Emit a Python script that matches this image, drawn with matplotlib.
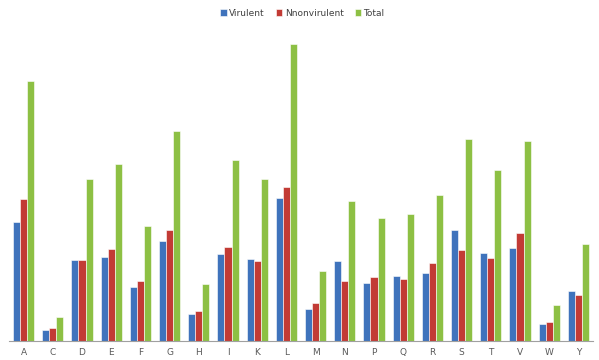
import matplotlib.pyplot as plt
import numpy as np

# amino acid categories
categories = ['A', 'C', 'D', 'E', 'F', 'G', 'H', 'I', 'K', 'L',
              'M', 'N', 'P', 'Q', 'R', 'S', 'T', 'V', 'W', 'Y']
virulent = [119, 11, 81, 84, 54, 100, 27, 87, 82, 143,
            32, 80, 58, 65, 68, 111, 88, 93, 17, 50]
nonvirulent = [142, 13, 81, 92, 60, 111, 30, 94, 80, 154,
               38, 60, 64, 62, 78, 91, 83, 108, 19, 46]
total = [260, 24, 162, 177, 115, 210, 57, 181, 162, 297,
         70, 140, 123, 127, 146, 202, 171, 200, 36, 97]

fig = plt.figure(figsize=(5.99, 3.6), dpi=100)
ax = fig.add_axes([9 / 599, 1 - 341 / 360, 584 / 599, 311 / 360])

x = np.arange(len(categories))
width = 0.24
b1 = ax.bar(x - width, virulent, width, color='#3F73BC', edgecolor='white', linewidth=0.4, label='Virulent')
b2 = ax.bar(x, nonvirulent, width, color='#C23B35', edgecolor='white', linewidth=0.4, label='Nnonvirulent')
b3 = ax.bar(x + width, total, width, color='#8DC044', edgecolor='white', linewidth=0.4, label='Total')

ax.set_xlim(-0.5, len(categories) - 0.5)
ax.set_ylim(0, 311)
ax.set_xticks(x)
ax.set_xticklabels(categories, fontsize=6.5, color='#595959')
ax.tick_params(axis='x', length=0, pad=5)
ax.set_yticks([])
for side in ['top', 'right', 'left']:
    ax.spines[side].set_visible(False)
ax.spines['bottom'].set_color('#A0A0A0')
ax.spines['bottom'].set_linewidth(0.8)

fig.legend(handles=[b1, b2, b3], loc='center', bbox_to_anchor=(0.505, 1 - 13 / 360),
           ncol=3, frameon=False, fontsize=6.5, handlelength=0.7, handleheight=0.7,
           handletextpad=0.3, columnspacing=1.2, labelcolor='#404040')

fig.savefig('out.png', dpi=100)
